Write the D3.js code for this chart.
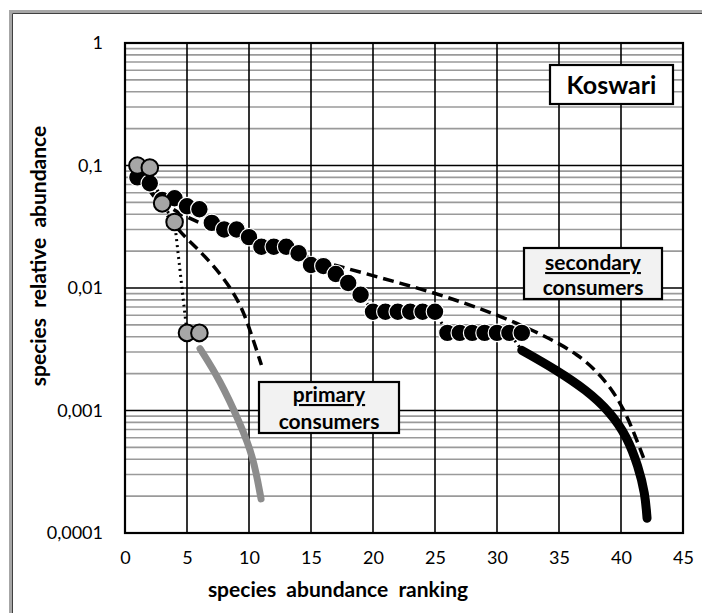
<!DOCTYPE html>
<html>
<head>
<meta charset="utf-8">
<script src="https://cdn.jsdelivr.net/npm/d3@7/dist/d3.min.js"></script>
<style>
  body { margin: 0; background: #fff; }
  svg { display: block; font-family: Lato, "Open Sans", sans-serif; }
</style>
</head>
<body>
<svg id="chart" width="702" height="613"></svg>
<script>
// ---------- data ----------
const xTicks = [0, 5, 10, 15, 20, 25, 30, 35, 40, 45];
const yTicks = [1, 0.1, 0.01, 0.001, 0.0001];
const yTickLabels = ["1", "0,1", "0,01", "0,001", "0,0001"];

// observed ranks / relative abundance
const secondaryRank = [1,2,3,4,5,6,7,8,9,10,11,12,13,14,15,16,17,18,19,20,21,22,23,24,25,26,27,28,29,30,31,32];
const secondaryValue = [0.08,0.0716,0.0523,0.054,0.0465,0.044,0.034,0.030,0.030,0.026,0.0217,0.0217,0.0217,0.0192,0.0154,0.0151,0.0130,0.0110,0.0088,
  0.0064,0.0064,0.0064,0.0064,0.0064,0.0064,0.0043,0.0043,0.0043,0.0043,0.0043,0.0043,0.0043];
const primaryRank = [1,2,3,4,5,6];
const primaryValue = [0.1,0.096,0.049,0.0346,0.0043,0.0043];

// thick tail curves
const secondaryTailRank = [32, 34.8, 37.2, 39.1, 40.5, 41.4, 41.94, 42.1];
const secondaryTailValue = [0.0031, 0.00214, 0.00147, 0.00098, 0.00061, 0.000348, 0.000211, 0.000132];
const primaryTailRank = [6.05, 7.66, 9.27, 10.35, 10.97];
const primaryTailValue = [0.0032, 0.00177, 0.00079, 0.00042, 0.00019];

// dashed model curves
const secondaryModelRank = [1, 2, 3, 5, 8, 11, 14, 19.5, 24.8, 30.2, 34, 36.5, 38.5, 40, 41, 41.9];
const secondaryModelValue = [0.085, 0.062, 0.050, 0.037, 0.0288, 0.023, 0.0186, 0.0130, 0.0093, 0.0060, 0.0040, 0.0029, 0.0019, 0.00115, 0.00068, 0.00039];
const primaryModelRank = [1, 2.3, 4.2, 6, 7.9, 9.3, 10.1, 11];
const primaryModelValue = [0.085, 0.057, 0.0297, 0.0204, 0.0124, 0.0075, 0.0045, 0.00235];

// ---------- drawing ----------
const svg = d3.select("#chart");
const W = 702, H = 613;
svg.append("rect").attr("width", W).attr("height", H).attr("fill", "#fff");

// outer frame (top/left visible)
svg.append("path").attr("d", "M10.5,613 V11.5 H702").attr("fill", "none").attr("stroke", "#a6a6a6").attr("stroke-width", 3);
svg.append("path").attr("d", "M12.5,613 V13.5 H702").attr("fill", "none").attr("stroke", "#404040").attr("stroke-width", 1);

const x = d3.scaleLinear().domain([0, 45]).range([125, 683]);
const y = d3.scaleLog().domain([0.0001, 1]).range([533, 43]);

const g = svg.append("g");

// minor horizontal grid
const minor = [];
for (let e = -4; e < 0; e++) for (let m = 2; m <= 9; m++) minor.push(m * Math.pow(10, e));
g.selectAll("line.minor").data(minor).join("line")
  .attr("x1", x(0)).attr("x2", x(45))
  .attr("y1", d => y(d)).attr("y2", d => y(d))
  .attr("stroke", "#9a9a9a").attr("stroke-width", 1.6);
// major horizontal grid
g.selectAll("line.major").data(yTicks).join("line")
  .attr("x1", x(0)).attr("x2", x(45))
  .attr("y1", d => y(d)).attr("y2", d => y(d))
  .attr("stroke", "#000").attr("stroke-width", 1.6);
// vertical grid
g.selectAll("line.vgrid").data(xTicks).join("line")
  .attr("x1", d => x(d)).attr("x2", d => x(d))
  .attr("y1", y(1)).attr("y2", y(0.0001))
  .attr("stroke", "#000").attr("stroke-width", 1.6);
// plot border
g.append("rect").attr("x", x(0)).attr("y", y(1)).attr("width", x(45) - x(0)).attr("height", y(0.0001) - y(1))
  .attr("fill", "none").attr("stroke", "#000").attr("stroke-width", 2.2);

// axes tick labels
const yAxis = d3.axisLeft(y).tickValues(yTicks).tickSize(0).tickPadding(0)
  .tickFormat((d, i) => yTickLabels[i]);
const ya = svg.append("g").attr("transform", "translate(103,0)").call(yAxis);
ya.select(".domain").remove();
ya.selectAll("text").attr("font-size", 18).attr("font-family", "Lato, 'Open Sans', sans-serif").attr("fill", "#000");

const xAxis = d3.axisBottom(x).tickValues(xTicks).tickSize(0).tickPadding(0).tickFormat(d3.format("d"));
const xa = svg.append("g").attr("transform", "translate(0,551)").call(xAxis);
xa.select(".domain").remove();
xa.selectAll("text").attr("font-size", 18).attr("font-family", "Lato, 'Open Sans', sans-serif").attr("fill", "#000");

// axis titles
svg.append("text").attr("x", 338).attr("y", 597).attr("text-anchor", "middle")
  .attr("font-size", 21).attr("font-weight", "bold").style("white-space", "pre")
  .text("species  abundance  ranking");
svg.append("text").attr("transform", "translate(46,256) rotate(-90)").attr("text-anchor", "middle")
  .attr("font-size", 21).attr("font-weight", "bold").style("white-space", "pre")
  .text("species  relative  abundance");

const line = d3.line().x(d => x(d[0])).y(d => y(d[1])).curve(d3.curveBasis);
const zip = (a, b) => a.map((v, i) => [v, b[i]]);

// dashed model curves
g.append("path").datum(zip(primaryModelRank, primaryModelValue)).attr("d", line)
  .attr("fill", "none").attr("stroke", "#000").attr("stroke-width", 3.5).attr("stroke-dasharray", "11,6");
g.append("path").datum(zip(secondaryModelRank, secondaryModelValue)).attr("d", line)
  .attr("fill", "none").attr("stroke", "#000").attr("stroke-width", 3.5).attr("stroke-dasharray", "11,6");

// dotted connectors through observed data into tails
const linLine = d3.line().x(d => x(d[0])).y(d => y(d[1]));
const secDotted = zip(secondaryRank, secondaryValue).slice(0, -1).concat([[secondaryTailRank[0], secondaryTailValue[0]]]);
const priDotted = zip(primaryRank, primaryValue).concat([[primaryTailRank[0], primaryTailValue[0]]]);
g.append("path").datum(secDotted).attr("d", linLine)
  .attr("fill", "none").attr("stroke", "#000").attr("stroke-width", 3).attr("stroke-dasharray", "2,4");
g.append("path").datum(priDotted).attr("d", linLine)
  .attr("fill", "none").attr("stroke", "#000").attr("stroke-width", 3).attr("stroke-dasharray", "2,4");

// thick tails
g.append("path").datum(zip(secondaryTailRank, secondaryTailValue)).attr("d", line)
  .attr("fill", "none").attr("stroke", "#000").attr("stroke-width", 9).attr("stroke-linecap", "round");
g.append("path").datum(zip(primaryTailRank, primaryTailValue)).attr("d", line)
  .attr("fill", "none").attr("stroke", "#8c8c8c").attr("stroke-width", 7).attr("stroke-linecap", "round");

// observed dots
g.selectAll("circle.sec").data(zip(secondaryRank, secondaryValue)).join("circle")
  .attr("cx", d => x(d[0])).attr("cy", d => y(d[1])).attr("r", 8.8)
  .attr("fill", "#000").attr("stroke", "#fff").attr("stroke-width", 1.2);
g.selectAll("circle.pri").data(zip(primaryRank, primaryValue)).join("circle")
  .attr("cx", d => x(d[0])).attr("cy", d => y(d[1])).attr("r", 8.3)
  .attr("fill", "#a6a6a6").attr("stroke", "#000").attr("stroke-width", 2);

// label boxes
function box(x0, y0, w, h, fill) {
  svg.append("rect").attr("x", x0).attr("y", y0).attr("width", w).attr("height", h)
    .attr("fill", fill).attr("stroke", "#000").attr("stroke-width", 2.2);
}
box(550, 65, 123, 39, "#fff");
svg.append("text").attr("x", 611.5).attr("y", 93.5).attr("text-anchor", "middle")
  .attr("font-size", 25).attr("font-weight", "bold").text("Koswari");

box(524, 248, 138, 51, "#f2f2f2");
svg.append("text").attr("x", 593).attr("y", 270).attr("text-anchor", "middle")
  .attr("font-size", 21).attr("font-weight", "bold").attr("text-decoration", "underline").text("secondary");
svg.append("text").attr("x", 593).attr("y", 295).attr("text-anchor", "middle")
  .attr("font-size", 21).attr("font-weight", "bold").text("consumers");

box(259, 382, 140, 51, "#f2f2f2");
svg.append("text").attr("x", 329).attr("y", 402).attr("text-anchor", "middle")
  .attr("font-size", 21).attr("font-weight", "bold").attr("text-decoration", "underline").text("primary");
svg.append("text").attr("x", 329).attr("y", 429).attr("text-anchor", "middle")
  .attr("font-size", 21).attr("font-weight", "bold").text("consumers");
</script>
</body>
</html>
